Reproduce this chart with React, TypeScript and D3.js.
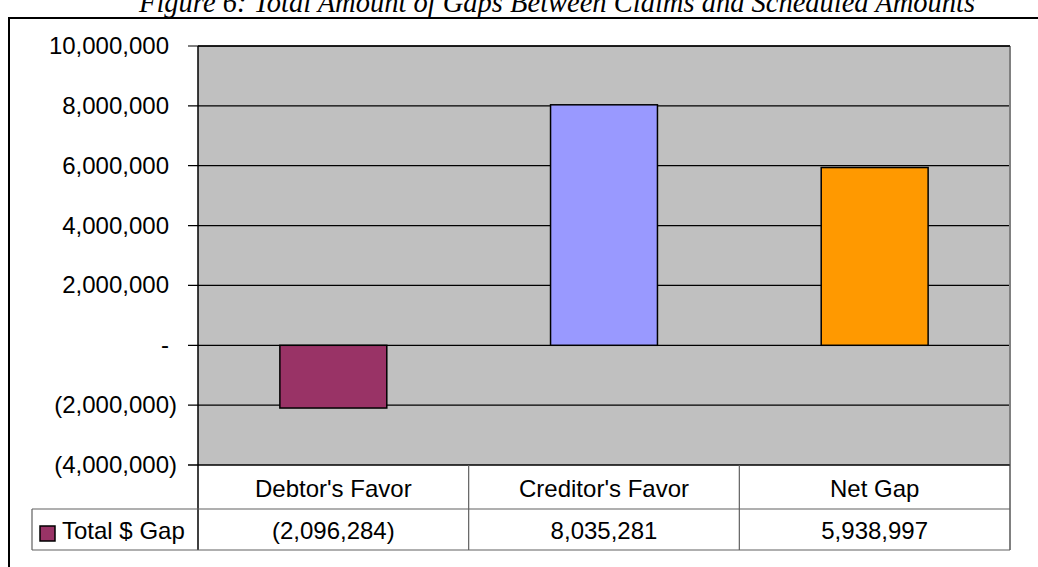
import React from "react";
import * as d3 from "d3";

const categories = ["Debtor's Favor", "Creditor's Favor", "Net Gap"];
const values = [-2096284, 8035281, 5938997];
const barColors = ["#993366", "#9999FF", "#FF9900"];
const yTicks = [10000000, 8000000, 6000000, 4000000, 2000000, 0, -2000000, -4000000];
const seriesName = "Total $ Gap";
const title = "Figure 6: Total Amount of Gaps Between Claims and Scheduled Amounts";

const W = 1038, H = 567;
const plotL = 198, plotR = 1010, plotT = 46, plotB = 465;
const row1B = 509, row2B = 550, legendL = 32;

const fmtNum = d3.format(",");
const fmtAcct = (v: number) => (v === 0 ? "-" : v < 0 ? `(${fmtNum(-v)})` : fmtNum(v));

export default function App() {
  const y = d3.scaleLinear().domain([-4000000, 10000000]).range([plotB, plotT]);
  const x = d3.scaleBand().domain(categories).range([plotL, plotR]).paddingInner(0).paddingOuter(0);
  const bw = x.bandwidth();
  const barW = bw * 0.395;
  const font = "'Liberation Sans', Arial, sans-serif";
  const fs = 24;
  return (
    <svg width={W} height={H} style={{ position: "absolute", left: 0, top: 0, background: "#fff" }}>
      <text x={557} y={12} textAnchor="middle" fontFamily="'Liberation Serif', 'Times New Roman', serif" fontStyle="italic" fontSize={28.5}>{title}</text>
      <rect x={9} y={18} width={W + 10} height={H + 10} fill="none" stroke="#000" strokeWidth={2} />
      <rect x={plotL} y={plotT} width={plotR - plotL} height={plotB - plotT} fill="#C0C0C0" />
      {yTicks.map((t) => (
        <g key={t}>
          <line x1={188} x2={plotR} y1={y(t)} y2={y(t)} stroke="#000" strokeWidth={1.2} />
          <text x={t < 0 ? 177 : 169} y={y(t) + 8} textAnchor="end" fontFamily={font} fontSize={fs}>{fmtAcct(t)}</text>
        </g>
      ))}
      {categories.map((c, i) => {
        const v = values[i];
        const cx = (x(c) as number) + bw / 2;
        return (
          <rect key={c} x={cx - barW / 2} y={Math.min(y(v), y(0))} width={barW} height={Math.abs(y(v) - y(0))}
            fill={barColors[i]} stroke="#000" strokeWidth={1.5} />
        );
      })}
      <line x1={plotL} x2={plotL} y1={plotT} y2={row2B} stroke="#000" strokeWidth={1.5} />
      <line x1={plotR} x2={plotR} y1={plotT} y2={row2B} stroke="#808080" strokeWidth={2} />
      <line x1={plotL} x2={plotR} y1={plotT} y2={plotT} stroke="#000" strokeWidth={1.5} />
      {/* data table */}
      <line x1={188} x2={plotR} y1={plotB} y2={plotB} stroke="#000" strokeWidth={1.2} />
      <line x1={legendL} x2={plotR} y1={row1B} y2={row1B} stroke="#606060" strokeWidth={1.2} />
      <line x1={legendL} x2={plotR} y1={row2B} y2={row2B} stroke="#606060" strokeWidth={1.2} />
      <line x1={legendL} x2={legendL} y1={row1B} y2={row2B} stroke="#606060" strokeWidth={1.2} />
      {categories.slice(1).map((c) => (
        <line key={c} x1={x(c) as number} x2={x(c) as number} y1={plotB} y2={row2B} stroke="#606060" strokeWidth={1.2} />
      ))}
      {categories.map((c, i) => {
        const cx = (x(c) as number) + bw / 2;
        return (
          <g key={c}>
            <text x={cx} y={497} textAnchor="middle" fontFamily={font} fontSize={fs}>{c}</text>
            <text x={cx} y={539} textAnchor="middle" fontFamily={font} fontSize={fs}>{fmtAcct(values[i])}</text>
          </g>
        );
      })}
      <rect x={40} y={526} width={15} height={15} fill={barColors[0]} stroke="#000" strokeWidth={1.5} />
      <text x={62} y={539} fontFamily={font} fontSize={fs}>{seriesName}</text>
    </svg>
  );
}
